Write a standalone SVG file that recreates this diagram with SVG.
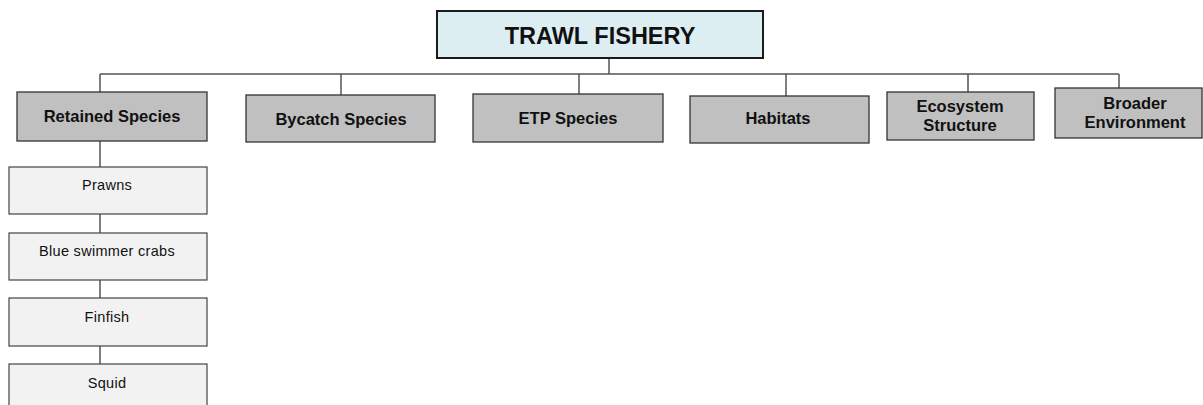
<svg xmlns="http://www.w3.org/2000/svg" width="1203" height="405" viewBox="0 0 1203 405">
  <style>
    .root rect { fill: #DDEEF3; stroke: #1a1a1a; stroke-width: 2; }
    .cat rect { fill: #C0C0C0; stroke: #333; stroke-width: 1.3; }
    .item rect { fill: #F2F2F2; stroke: #444; stroke-width: 1.2; }
    text { font-family: "Liberation Sans", Arial, sans-serif; fill: #111; text-anchor: middle; }
    .root text { font-size: 23.5px; font-weight: bold; }
    .cat text { font-size: 16.5px; font-weight: bold; }
    .item text { font-size: 14.5px; letter-spacing: 0.3px; }
    .links line { stroke: #555; stroke-width: 1.5; }
  </style>
  <rect width="1203" height="405" fill="#ffffff"/>

  <g class="links">
    <line x1="609" y1="58" x2="609" y2="74"/>
    <line x1="100" y1="74" x2="1119" y2="74"/>
    <line x1="100" y1="74" x2="100" y2="92"/>
    <line x1="341" y1="74" x2="341" y2="95"/>
    <line x1="579" y1="74" x2="579" y2="94"/>
    <line x1="786" y1="74" x2="786" y2="96"/>
    <line x1="968" y1="74" x2="968" y2="92"/>
    <line x1="1119" y1="74" x2="1119" y2="88"/>
    <line x1="100" y1="141" x2="100" y2="167"/>
    <line x1="100" y1="214" x2="100" y2="233"/>
    <line x1="100" y1="280" x2="100" y2="298"/>
    <line x1="100" y1="346" x2="100" y2="364"/>
  </g>

  <g id="trawl-fishery" class="root">
    <rect x="437" y="11" width="326" height="47"/>
    <text x="600" y="44">TRAWL FISHERY</text>
  </g>

  <g id="retained-species" class="cat">
    <rect x="17" y="92" width="190" height="49"/>
    <text x="112" y="122">Retained Species</text>
  </g>
  <g id="bycatch-species" class="cat">
    <rect x="246" y="95" width="189" height="47"/>
    <text x="341" y="124.5">Bycatch Species</text>
  </g>
  <g id="etp-species" class="cat">
    <rect x="473" y="94" width="190" height="48"/>
    <text x="568" y="123.5">ETP Species</text>
  </g>
  <g id="habitats" class="cat">
    <rect x="690" y="96" width="179" height="47"/>
    <text x="778" y="124">Habitats</text>
  </g>
  <g id="ecosystem-structure" class="cat">
    <rect x="887" y="92" width="147" height="48"/>
    <text x="960" y="112">Ecosystem</text>
    <text x="960" y="131">Structure</text>
  </g>
  <g id="broader-environment" class="cat">
    <rect x="1055" y="88" width="147" height="50"/>
    <text x="1135" y="109">Broader</text>
    <text x="1135" y="128">Environment</text>
  </g>

  <g id="prawns" class="item">
    <rect x="9" y="167" width="198" height="47"/>
    <text x="107" y="190">Prawns</text>
  </g>
  <g id="blue-swimmer-crabs" class="item">
    <rect x="9" y="233" width="198" height="47"/>
    <text x="107" y="256">Blue swimmer crabs</text>
  </g>
  <g id="finfish" class="item">
    <rect x="9" y="298" width="198" height="48"/>
    <text x="107" y="322">Finfish</text>
  </g>
  <g id="squid" class="item">
    <rect x="9" y="364" width="198" height="47"/>
    <text x="107" y="388">Squid</text>
  </g>
</svg>
